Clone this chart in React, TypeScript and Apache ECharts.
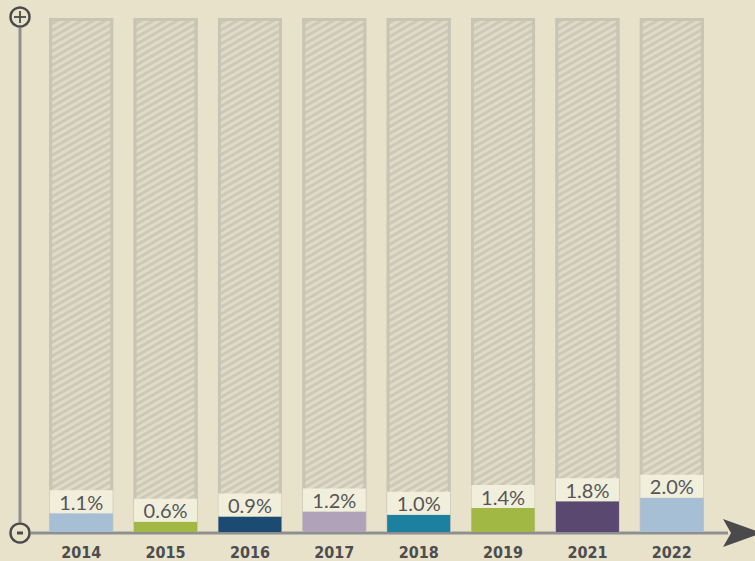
import React, { useEffect, useRef } from "react";
import * as echarts from "echarts";

const categories = ["2014", "2015", "2016", "2017", "2018", "2019", "2021", "2022"];
const values = [1.1, 0.6, 0.9, 1.2, 1.0, 1.4, 1.8, 2.0];
const barColors = ["#a6bfd5", "#a1b944", "#1b4a73", "#b0a3b9", "#1c80a1", "#a1b944", "#5b4870", "#a6bfd5"];
const axisMax = 30;
const backgroundValues = categories.map(() => axisMax);

export default function App() {
  const ref = useRef<HTMLDivElement>(null);
  useEffect(() => {
    document.body.style.margin = "0";
    const chart = echarts.init(ref.current!, null, { renderer: "svg" });
    const dark = "#4a4a4c";
    const lineGray = "#8f8f90";
    chart.setOption({
      animation: false,
      backgroundColor: "#e9e2cb",
      grid: { left: 39, right: 41, top: 18, bottom: 29 },
      xAxis: [
        {
          type: "category",
          data: categories,
          axisLine: { show: false },
          axisTick: { show: false },
          axisLabel: {
            margin: 12,
            fontFamily: "DejaVu Sans Condensed",
            fontWeight: "bold",
            fontSize: 16,
            color: "#4d4d4f",
          },
        },
        {
          type: "category",
          data: categories,
          show: false,
        },
      ],
      yAxis: { type: "value", min: 0, max: axisMax, show: false },
      series: [
        {
          type: "bar",
          xAxisIndex: 1,
          data: backgroundValues,
          barWidth: 64,
          silent: true,
          itemStyle: {
            color: "#cdc9b8",
            borderColor: "#c9c5b4",
            borderWidth: 3,
            decal: {
              symbol: "rect",
              symbolSize: 1,
              dashArrayX: [1, 0],
              dashArrayY: [3, 3],
              rotation: -Math.PI / 6,
              color: "#e0dbc6",
            },
          },
        },
        {
          type: "bar",
          xAxisIndex: 0,
          barWidth: 63,
          data: values.map((v, i) => ({ value: v, itemStyle: { color: barColors[i] } })),
          label: {
            show: true,
            position: "top",
            distance: 0,
            formatter: (p: any) => p.value.toFixed(1) + "%",
            backgroundColor: "#f1efdc",
            width: 63,
            height: 23,
            lineHeight: 23,
            align: "center",
            fontFamily: "Lato",
            fontSize: 20,
            color: "#555557",
          },
        },
      ],
      graphic: [
        { type: "line", shape: { x1: 20, y1: 28, x2: 20, y2: 522 }, style: { stroke: lineGray, lineWidth: 3 } },
        { type: "line", shape: { x1: 31, y1: 533, x2: 728, y2: 533 }, style: { stroke: lineGray, lineWidth: 3 } },
        { type: "circle", shape: { cx: 20, cy: 17, r: 9.5 }, style: { fill: "#e9e2cb", stroke: dark, lineWidth: 2.5 } },
        { type: "line", shape: { x1: 14, y1: 17, x2: 26, y2: 17 }, style: { stroke: dark, lineWidth: 1.8 } },
        { type: "line", shape: { x1: 20, y1: 11, x2: 20, y2: 23 }, style: { stroke: dark, lineWidth: 1.8 } },
        { type: "circle", shape: { cx: 20, cy: 533, r: 9.5 }, style: { fill: "#e9e2cb", stroke: dark, lineWidth: 2.5 } },
        { type: "rect", shape: { x: 17, y: 531.5, width: 6, height: 3 }, style: { fill: dark } },
        {
          type: "polygon",
          shape: { points: [[723, 519], [762, 533], [723, 547], [731, 533]] },
          style: { fill: dark },
        },
      ],
    });
    return () => chart.dispose();
  }, []);
  return <div ref={ref} style={{ position: "fixed", left: 0, top: 0, width: 755, height: 561 }} />;
}
